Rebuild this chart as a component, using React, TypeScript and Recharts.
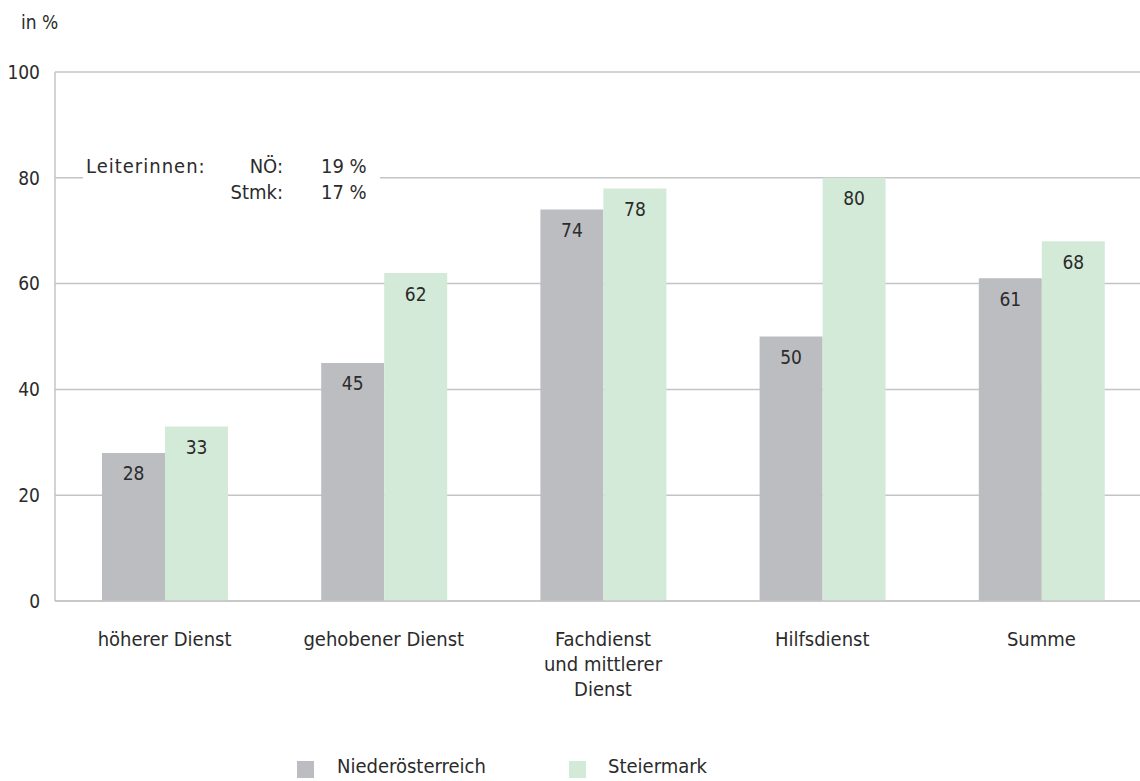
import { BarChart, Bar, XAxis, YAxis, CartesianGrid, LabelList } from 'recharts'

const categories = ['höherer Dienst', 'gehobener Dienst', 'Fachdienst\nund mittlerer\nDienst', 'Hilfsdienst', 'Summe']
const niederoesterreich = [28, 45, 74, 50, 61]
const steiermark = [33, 62, 78, 80, 68]
const yTicks = [0, 20, 40, 60, 80, 100]

const data = categories.map((name, i) => ({
  name,
  noe: niederoesterreich[i],
  stmk: steiermark[i],
}))

const FONT = '"DejaVu Sans Condensed", "DejaVu Sans", sans-serif'
const TEXT = '#2b2b2b'
const GRID = '#c4c4c4'
const GRAY = '#bcbdc1'
const GREEN = '#d4ead8'

const CategoryTick = ({ x, y, payload }: any) => {
  const lines = String(payload.value).split('\n')
  return (
    <text x={x} y={y} textAnchor="middle" fill={TEXT} fontSize={20} fontFamily={FONT}>
      {lines.map((line, i) => (
        <tspan key={i} x={x} dy={i === 0 ? 43 : 25}>
          {line}
        </tspan>
      ))}
    </text>
  )
}

export default function App() {
  return (
    <div
      style={{
        position: 'absolute',
        left: 0,
        top: 0,
        width: 1140,
        height: 781,
        overflow: 'hidden',
        background: '#fff',
        fontFamily: FONT,
        color: TEXT,
      }}
    >
      <div style={{ position: 'absolute', left: 21, top: 11, fontSize: 19 }}>in %</div>

      <BarChart
        width={1151}
        height={781}
        data={data}
        margin={{ top: 72, right: 0, left: 0, bottom: 110 }}
        barCategoryGap={47}
        barGap={0}
      >
        <CartesianGrid stroke={GRID} strokeWidth={1.5} vertical={false} />
        <XAxis
          dataKey="name"
          axisLine={{ stroke: GRID, strokeWidth: 1.5 }}
          tickLine={false}
          tickSize={0}
          height={70}
          interval={0}
          tick={<CategoryTick />}
        />
        <YAxis
          domain={[0, 100]}
          ticks={yTicks}
          width={55}
          axisLine={{ stroke: GRID, strokeWidth: 1.5 }}
          tickLine={false}
          tickSize={0}
          tickMargin={15}
          tick={{ fill: TEXT, fontSize: 19, fontFamily: FONT }}
        />
        <Bar dataKey="noe" fill={GRAY} isAnimationActive={false}>
          <LabelList dataKey="noe" position="insideTop" offset={14} fill={TEXT} fontSize={19} fontFamily={FONT} />
        </Bar>
        <Bar dataKey="stmk" fill={GREEN} isAnimationActive={false}>
          <LabelList dataKey="stmk" position="insideTop" offset={14} fill={TEXT} fontSize={19} fontFamily={FONT} />
        </Bar>
      </BarChart>

      <div
        style={{
          position: 'absolute',
          left: 83,
          top: 153,
          width: 297,
          height: 52,
          background: '#fff',
          fontSize: 20,
          lineHeight: '26px',
        }}
      >
        <div style={{ position: 'absolute', left: 3, top: 0, letterSpacing: 1 }}>Leiterinnen:</div>
        <div style={{ position: 'absolute', right: 97, top: 0, textAlign: 'right' }}>
          NÖ:
          <br />
          Stmk:
        </div>
        <div style={{ position: 'absolute', left: 238, top: 0 }}>
          19 %
          <br />
          17 %
        </div>
      </div>

      <div
        style={{
          position: 'absolute',
          left: 297,
          top: 754,
          height: 24,
          fontSize: 20,
          lineHeight: '24px',
          display: 'flex',
          alignItems: 'center',
        }}
      >
        <span style={{ width: 17, height: 17, background: GRAY, display: 'inline-block', marginTop: 6 }} />
        <span style={{ marginLeft: 23, width: 232 }}>Niederösterreich</span>
        <span style={{ width: 17, height: 17, background: GREEN, display: 'inline-block', marginTop: 6 }} />
        <span style={{ marginLeft: 22 }}>Steiermark</span>
      </div>
    </div>
  )
}
